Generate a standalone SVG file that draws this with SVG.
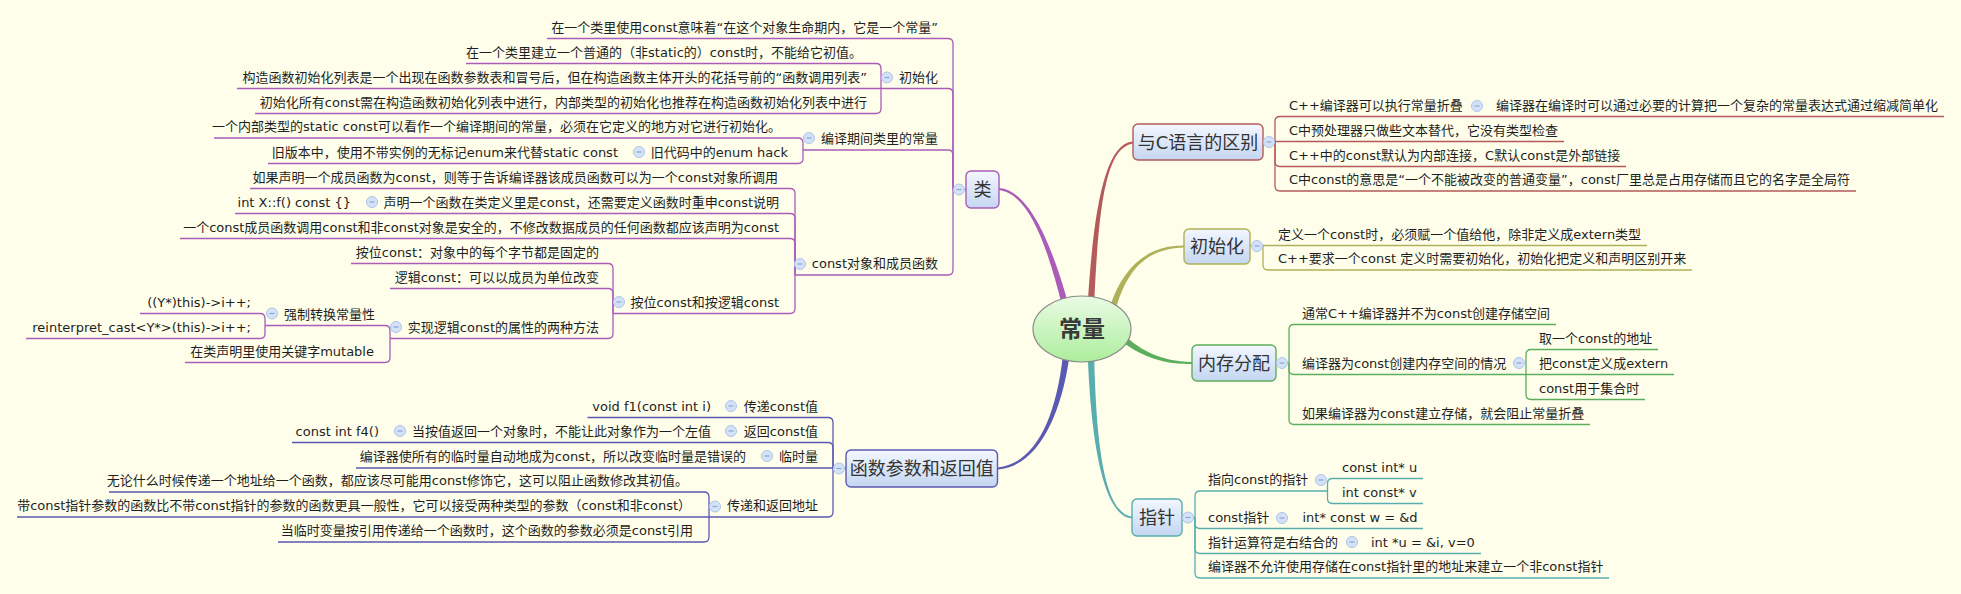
<svg xmlns="http://www.w3.org/2000/svg" width="1961" height="594" viewBox="0 0 1961 594">
<defs>
<style>
.t{font-family:"DejaVu Sans","Noto Sans CJK SC",sans-serif;font-size:13px;fill:#1e1e1e}
.e{text-anchor:end}
.tp{font-family:"DejaVu Sans","Noto Sans CJK SC",sans-serif;font-size:18px;fill:#333;text-anchor:middle}
.box{fill:url(#gb);stroke-width:1.4}
.ln{fill:none;stroke-width:1.3}
.P{stroke:#AA5CB8}.B{stroke:#5A5AB4}.R{stroke:#B45A5A}.O{stroke:#B0B058}.G{stroke:#5CAE5C}.T{stroke:#58AEAE}
</style>
<linearGradient id="gb" x1="0" y1="0" x2="0" y2="1"><stop offset="0" stop-color="#F3F7FF"/><stop offset="1" stop-color="#C4D6F1"/></linearGradient>
<linearGradient id="gc" x1="0" y1="0" x2="0" y2="1"><stop offset="0" stop-color="#EAFBE4"/><stop offset="1" stop-color="#ACEE9C"/></linearGradient>
<g id="ic"><circle r="5.5" fill="#D4E2F8" stroke="#AEC4E8" stroke-width="1"/><path d="M-2.5,0H2.5" stroke="#8CA6D6" stroke-width="1.2"/></g>
</defs>
<rect width="1961" height="594" fill="#FEFEEB"/>
<g id="connectors">
<path fill="#AA5CB8" d="M1068.1,303.1 C1052.3,247.3 1030.2,190.3 999.1,188.1 L998.9,189.9 C1029.8,193.7 1047.7,248.7 1061.9,304.9 Z"/>
<path fill="#B45A5A" d="M1094.2,303.2 C1098.4,210.1 1105.1,146.7 1133.1,143.4 L1132.9,141.6 C1104.9,143.3 1093.6,209.9 1087.8,302.8 Z"/>
<path fill="#B0B058" d="M1116,308 C1127.3,270.7 1145,248.7 1184,247.4 L1184,245.6 C1145,245.3 1122.7,269.3 1110,306 Z"/>
<path fill="#5CAE5C" d="M1123,342.5 C1138.5,353.9 1160,364.7 1192,363.9 L1192,362.1 C1160,361.3 1141.5,350.1 1127,337.5 Z"/>
<path fill="#58AEAE" d="M1087.8,358.1 C1091.6,450.1 1104.8,516.7 1132,518.4 L1132,516.6 C1105.2,513.3 1096.4,449.9 1094.2,357.9 Z"/>
<path fill="#5A5AB4" d="M1062.8,356.6 C1055.6,419.7 1034.8,463.3 998,467.6 L998,469.4 C1035.2,466.7 1060.4,420.3 1069.2,357.4 Z"/>
<g class="ln P">
<path d="M966,189.5 H953"/>
<path d="M953,189.5 V43.5 Q953,38.5 948,38.5 H547"/>
<path d="M953,189.5 V93.5 Q953,88.5 948,88.5 H881"/>
<path d="M881,88.5 V68.5 Q881,63.5 876,63.5 H466"/>
<path d="M881,88.5 H237"/>
<path d="M881,88.5 V108.5 Q881,113.5 876,113.5 H255"/>
<path d="M953,189.5 V155 Q953,150 948,150 H803"/>
<path d="M803,150 V143 Q803,138 798,138 H214"/>
<path d="M803,150 V158.5 Q803,163.5 798,163.5 H268"/>
<path d="M953,189.5 V270 Q953,275 948,275 H795"/>
<path d="M795,275 V193.5 Q795,188.5 790,188.5 H250"/>
<path d="M795,275 V218.5 Q795,213.5 790,213.5 H235"/>
<path d="M795,275 V243.5 Q795,238.5 790,238.5 H180"/>
<path d="M795,275 V308.5 Q795,313.5 790,313.5 H613"/>
<path d="M613,313.5 V268.5 Q613,263.5 608,263.5 H351"/>
<path d="M613,313.5 V293.5 Q613,288.5 608,288.5 H390"/>
<path d="M613,313.5 V333.5 Q613,338.5 608,338.5 H390"/>
<path d="M390,338.5 V330.5 Q390,325.5 385,325.5 H265"/>
<path d="M265,325.5 V318.5 Q265,313.5 260,313.5 H140"/>
<path d="M265,325.5 V333.5 Q265,338.5 260,338.5 H26"/>
<path d="M390,338.5 V357.5 Q390,362.5 385,362.5 H185"/>
</g>
<g class="ln B">
<path d="M846,468 H833"/>
<path d="M833,468 V422.5 Q833,417.5 828,417.5 H587.5"/>
<path d="M833,468 V447.5 Q833,442.5 828,442.5 H292"/>
<path d="M833,468 H356"/>
<path d="M833,468 V512 Q833,517 828,517 H709"/>
<path d="M709,517 V497 Q709,492 704,492 H109"/>
<path d="M709,517 H17"/>
<path d="M709,517 V537 Q709,542 704,542 H278"/>
</g>
<g class="ln R">
<path d="M1263,141.5 H1275"/>
<path d="M1275,141.5 V121.5 Q1275,116.5 1280,116.5 H1944"/>
<path d="M1275,141.5 H1564"/>
<path d="M1275,141.5 V161.5 Q1275,166.5 1280,166.5 H1626"/>
<path d="M1275,141.5 V186 Q1275,191 1280,191 H1856"/>
</g>
<g class="ln O">
<path d="M1250,245.5 H1263"/>
<path d="M1263,245.5 H1647"/>
<path d="M1263,245.5 V265 Q1263,270 1268,270 H1692"/>
</g>
<g class="ln G">
<path d="M1276,363 H1289"/>
<path d="M1289,363 V329.5 Q1289,324.5 1294,324.5 H1556"/>
<path d="M1289,363 V369.5 Q1289,374.5 1294,374.5 H1526"/>
<path d="M1526,374.5 V354.5 Q1526,349.5 1531,349.5 H1658"/>
<path d="M1526,374.5 H1674"/>
<path d="M1526,374.5 V394.5 Q1526,399.5 1531,399.5 H1645"/>
<path d="M1289,363 V419.5 Q1289,424.5 1294,424.5 H1590"/>
</g>
<g class="ln T">
<path d="M1182,517.5 H1195"/>
<path d="M1195,517.5 V496 Q1195,491 1200,491 H1327.5"/>
<path d="M1327.5,491 V483.5 Q1327.5,478.5 1332.5,478.5 H1423"/>
<path d="M1327.5,491 V498.5 Q1327.5,503.5 1332.5,503.5 H1423"/>
<path d="M1195,517.5 V523.5 Q1195,528.5 1200,528.5 H1423"/>
<path d="M1195,517.5 V548.5 Q1195,553.5 1200,553.5 H1481"/>
<path d="M1195,517.5 V573 Q1195,578 1200,578 H1609"/>
</g>
</g>
<g id="root"><ellipse cx="1082" cy="329" rx="49" ry="33" fill="url(#gc)" stroke="#8A8A8A" stroke-width="1.2"/><text x="1082" y="337" text-anchor="middle" style="font-family:'Noto Sans CJK SC',sans-serif;font-size:23px;font-weight:bold;fill:#3A3A3A">常量</text></g>
<g id="n-lei"><rect class="box P" x="966" y="171" width="33" height="37" rx="5"/><text class="tp" x="982.5" y="196">类</text><use href="#ic" x="959" y="189.5"/></g>
<g id="n-lei-1"><text class="t e" x="938" y="31.5">在一个类里使用const意味着“在这个对象生命期内，它是一个常量”</text></g>
<g id="n-lei-2"><text class="t e" x="938" y="81.5">初始化</text><use href="#ic" x="887" y="77.5"/></g>
<g id="n-lei-2-1"><text class="t e" x="862" y="56.5">在一个类里建立一个普通的（非static的）const时，不能给它初值。</text></g>
<g id="n-lei-2-2"><text class="t e" x="867" y="81.5">构造函数初始化列表是一个出现在函数参数表和冒号后，但在构造函数主体开头的花括号前的“函数调用列表”</text></g>
<g id="n-lei-2-3"><text class="t e" x="867" y="106.5">初始化所有const需在构造函数初始化列表中进行，内部类型的初始化也推荐在构造函数初始化列表中进行</text></g>
<g id="n-lei-3"><text class="t e" x="938" y="143">编译期间类里的常量</text><use href="#ic" x="809" y="138"/></g>
<g id="n-lei-3-1"><text class="t e" x="781" y="131">一个内部类型的static const可以看作一个编译期间的常量，必须在它定义的地方对它进行初始化。</text></g>
<g id="n-lei-3-2"><text class="t e" x="788" y="156.5">旧代码中的enum hack</text><use href="#ic" x="639" y="152"/></g>
<g id="n-lei-3-2-1"><text class="t e" x="618" y="156.5">旧版本中，使用不带实例的无标记enum来代替static const</text></g>
<g id="n-lei-4"><text class="t e" x="938" y="268">const对象和成员函数</text><use href="#ic" x="800" y="264"/></g>
<g id="n-lei-4-1"><text class="t e" x="778" y="181.5">如果声明一个成员函数为const，则等于告诉编译器该成员函数可以为一个const对象所调用</text></g>
<g id="n-lei-4-2"><text class="t e" x="779" y="206.5">声明一个函数在类定义里是const，还需要定义函数时重申const说明</text><use href="#ic" x="372" y="202"/></g>
<g id="n-lei-4-2-1"><text class="t e" x="351" y="206.5">int X::f() const {}</text></g>
<g id="n-lei-4-3"><text class="t e" x="779" y="231.5">一个const成员函数调用const和非const对象是安全的，不修改数据成员的任何函数都应该声明为const</text></g>
<g id="n-lei-4-4"><text class="t e" x="779" y="306.5">按位const和按逻辑const</text><use href="#ic" x="619" y="302"/></g>
<g id="n-lei-4-4-1"><text class="t e" x="599" y="256.5">按位const：对象中的每个字节都是固定的</text></g>
<g id="n-lei-4-4-2"><text class="t e" x="599" y="281.5">逻辑const：可以以成员为单位改变</text></g>
<g id="n-lei-4-4-3"><text class="t e" x="599" y="331.5">实现逻辑const的属性的两种方法</text><use href="#ic" x="396" y="327"/></g>
<g id="n-lei-4-4-3-1"><text class="t e" x="375" y="318.5">强制转换常量性</text><use href="#ic" x="272" y="313.5"/></g>
<g id="n-lei-4-4-3-1-1"><text class="t e" x="251" y="306.5">((Y*)this)-&gt;i++;</text></g>
<g id="n-lei-4-4-3-1-2"><text class="t e" x="251" y="331.5">reinterpret_cast&lt;Y*&gt;(this)-&gt;i++;</text></g>
<g id="n-lei-4-4-3-2"><text class="t e" x="374" y="355.5">在类声明里使用关键字mutable</text></g>
<g id="n-func"><rect class="box B" x="846" y="450" width="151.5" height="37" rx="5"/><text class="tp" x="921.75" y="475">函数参数和返回值</text><use href="#ic" x="839" y="468.5"/></g>
<g id="n-func-1"><text class="t e" x="818" y="410.5">传递const值</text><use href="#ic" x="731" y="406"/></g>
<g id="n-func-1-1"><text class="t e" x="711" y="410.5">void f1(const int i)</text></g>
<g id="n-func-2"><text class="t e" x="818" y="435.5">返回const值</text><use href="#ic" x="731" y="431"/></g>
<g id="n-func-2-1"><text class="t e" x="711" y="435.5">当按值返回一个对象时，不能让此对象作为一个左值</text><use href="#ic" x="400" y="431"/></g>
<g id="n-func-2-1-1"><text class="t e" x="379" y="435.5">const int f4()</text></g>
<g id="n-func-3"><text class="t e" x="818" y="461">临时量</text><use href="#ic" x="767" y="456"/></g>
<g id="n-func-3-1"><text class="t e" x="746" y="461">编译器使所有的临时量自动地成为const，所以改变临时量是错误的</text></g>
<g id="n-func-4"><text class="t e" x="818" y="510">传递和返回地址</text><use href="#ic" x="715" y="506.5"/></g>
<g id="n-func-4-1"><text class="t e" x="688" y="485">无论什么时候传递一个地址给一个函数，都应该尽可能用const修饰它，这可以阻止函数修改其初值。</text></g>
<g id="n-func-4-2"><text class="t e" x="691" y="510">带const指针参数的函数比不带const指针的参数的函数更具一般性，它可以接受两种类型的参数（const和非const）</text></g>
<g id="n-func-4-3"><text class="t e" x="693" y="535">当临时变量按引用传递给一个函数时，这个函数的参数必须是const引用</text></g>
<g id="n-c"><rect class="box R" x="1133" y="124" width="130" height="36" rx="5"/><text class="tp" x="1198" y="148.5">与C语言的区别</text><use href="#ic" x="1269" y="142"/></g>
<g id="n-c-1"><text class="t" x="1289" y="109.5">C++编译器可以执行常量折叠</text><use href="#ic" x="1477" y="106"/></g>
<g id="n-c-1-1"><text class="t" x="1496" y="109.5">编译器在编译时可以通过必要的计算把一个复杂的常量表达式通过缩减简单化</text></g>
<g id="n-c-2"><text class="t" x="1289" y="134.5">C中预处理器只做些文本替代，它没有类型检查</text></g>
<g id="n-c-3"><text class="t" x="1289" y="159.5">C++中的const默认为内部连接，C默认const是外部链接</text></g>
<g id="n-c-4"><text class="t" x="1289" y="184">C中const的意思是“一个不能被改变的普通变量”，const厂里总是占用存储而且它的名字是全局符</text></g>
<g id="n-init"><rect class="box O" x="1184" y="229" width="66" height="35" rx="5"/><text class="tp" x="1217" y="253">初始化</text><use href="#ic" x="1257" y="246"/></g>
<g id="n-init-1"><text class="t" x="1278" y="238.5">定义一个const时，必须赋一个值给他，除非定义成extern类型</text></g>
<g id="n-init-2"><text class="t" x="1278" y="263">C++要求一个const 定义时需要初始化，初始化把定义和声明区别开来</text></g>
<g id="n-mem"><rect class="box G" x="1192" y="345" width="84" height="36" rx="5"/><text class="tp" x="1234" y="369.5">内存分配</text><use href="#ic" x="1282" y="363"/></g>
<g id="n-mem-1"><text class="t" x="1302" y="317.5">通常C++编译器并不为const创建存储空间</text></g>
<g id="n-mem-2"><text class="t" x="1302" y="367.5">编译器为const创建内存空间的情况</text><use href="#ic" x="1519" y="363"/></g>
<g id="n-mem-2-1"><text class="t" x="1539" y="342.5">取一个const的地址</text></g>
<g id="n-mem-2-2"><text class="t" x="1539" y="367.5">把const定义成extern</text></g>
<g id="n-mem-2-3"><text class="t" x="1539" y="392.5">const用于集合时</text></g>
<g id="n-mem-3"><text class="t" x="1302" y="417.5">如果编译器为const建立存储，就会阻止常量折叠</text></g>
<g id="n-ptr"><rect class="box T" x="1132" y="499" width="50" height="37" rx="5"/><text class="tp" x="1157" y="524">指针</text><use href="#ic" x="1188" y="517.5"/></g>
<g id="n-ptr-1"><text class="t" x="1208" y="484">指向const的指针</text><use href="#ic" x="1321" y="480"/></g>
<g id="n-ptr-1-1"><text class="t" x="1342" y="471.5">const int* u</text></g>
<g id="n-ptr-1-2"><text class="t" x="1342" y="496.5">int const* v</text></g>
<g id="n-ptr-2"><text class="t" x="1208" y="521.5">const指针</text><use href="#ic" x="1282" y="518"/></g>
<g id="n-ptr-2-1"><text class="t" x="1302.5" y="521.5">int* const w = &amp;d</text></g>
<g id="n-ptr-3"><text class="t" x="1208" y="546.5">指针运算符是右结合的</text><use href="#ic" x="1352" y="542"/></g>
<g id="n-ptr-3-1"><text class="t" x="1371" y="546.5">int *u = &amp;i, v=0</text></g>
<g id="n-ptr-4"><text class="t" x="1208" y="571">编译器不允许使用存储在const指针里的地址来建立一个非const指针</text></g>
</svg>
